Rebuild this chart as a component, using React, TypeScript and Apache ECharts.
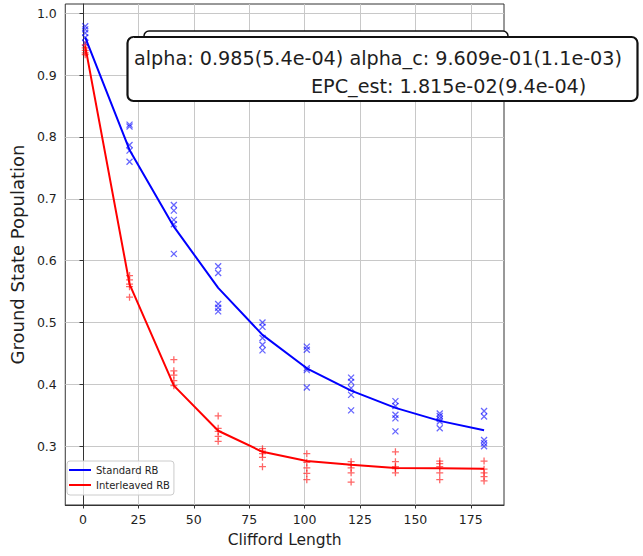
import React, { useEffect, useRef } from "react";
import * as echarts from "echarts";

const lengths = [1, 21, 41, 61, 81, 101, 121, 141, 161, 181];

const standardFit = [0.961, 0.779, 0.655, 0.556, 0.48, 0.426, 0.39, 0.362, 0.341, 0.326];
const interleavedFit = [0.947, 0.562, 0.398, 0.325, 0.291, 0.276, 0.27, 0.265, 0.2645, 0.2635];

const standardSamples = [
  [0.979, 0.974, 0.968, 0.961, 0.952],
  [0.82, 0.817, 0.787, 0.778, 0.76],
  [0.69, 0.681, 0.666, 0.659, 0.611],
  [0.591, 0.58, 0.53, 0.524, 0.518],
  [0.5, 0.493, 0.475, 0.464, 0.455],
  [0.461, 0.456, 0.426, 0.423, 0.395],
  [0.411, 0.404, 0.394, 0.383, 0.358],
  [0.373, 0.365, 0.351, 0.345, 0.324],
  [0.353, 0.349, 0.344, 0.34, 0.329],
  [0.357, 0.348, 0.31, 0.305, 0.3],
];

const interleavedSamples = [
  [0.949, 0.944, 0.94, 0.936, 0.933],
  [0.576, 0.569, 0.562, 0.558, 0.541],
  [0.44, 0.422, 0.415, 0.406, 0.398],
  [0.349, 0.329, 0.324, 0.316, 0.308],
  [0.296, 0.292, 0.288, 0.282, 0.267],
  [0.288, 0.274, 0.265, 0.256, 0.246],
  [0.275, 0.27, 0.265, 0.257, 0.242],
  [0.291, 0.275, 0.267, 0.264, 0.257],
  [0.276, 0.272, 0.267, 0.257, 0.246],
  [0.276, 0.263, 0.257, 0.251, 0.244],
];

const xTicks = [0, 25, 50, 75, 100, 125, 150, 175];
const yTicks = [0.3, 0.4, 0.5, 0.6, 0.7, 0.8, 0.9, 1.0];

const fitText1 = "alpha: 0.985(5.4e-04) alpha_c: 9.609e-01(1.1e-03)";
const fitText2 = "EPC_est: 1.815e-02(9.4e-04)";

const FONT = "DejaVu Sans";
const TEXT = "#1e1e1e";

function flatten(samples: number[][]) {
  const out: number[][] = [];
  samples.forEach((row, i) => row.forEach((v) => out.push([lengths[i], v])));
  return out;
}

export default function App() {
  const ref = useRef<HTMLDivElement>(null);
  useEffect(() => {
    if (!ref.current) return;
    const chart = echarts.init(ref.current, undefined, { renderer: "svg" });
    const axisCommon = {
      type: "value" as const,
      axisLine: { show: true, lineStyle: { color: "#333", width: 1 } },
      splitLine: { show: true, lineStyle: { color: "#c8c8c8", width: 1 } },
      nameLocation: "middle" as const,
      nameTextStyle: { fontFamily: FONT, color: TEXT },
    };
    chart.setOption({
      animation: false,
      backgroundColor: "#fff",
      grid: {
        left: 62,
        right: 139,
        top: 4,
        bottom: 51,
        show: true,
        borderColor: "#333",
        borderWidth: 1,
        backgroundColor: "transparent",
      },
      xAxis: {
        ...axisCommon,
        min: -8,
        max: 190,
        name: "Clifford Length",
        nameGap: 27,
        nameTextStyle: { fontFamily: FONT, color: TEXT, fontSize: 15.5 },
        axisTick: { show: true, customValues: xTicks, length: 3.5, lineStyle: { color: "#333" } },
        axisLabel: {
          customValues: xTicks,
          fontFamily: FONT,
          fontSize: 12.5,
          color: TEXT,
          margin: 8,
        },
      },
      yAxis: {
        ...axisCommon,
        min: 0.205,
        max: 1.015,
        name: "Ground State Population",
        nameGap: 35,
        nameTextStyle: { fontFamily: FONT, color: TEXT, fontSize: 18 },
        axisTick: { show: true, customValues: yTicks, length: 3.5, lineStyle: { color: "#333" } },
        axisLabel: {
          customValues: yTicks,
          fontFamily: FONT,
          fontSize: 12.5,
          color: TEXT,
          margin: 8.5,
          formatter: (v: number) => v.toFixed(1),
        },
      },
      legend: {
        orient: "vertical",
        left: 67,
        top: 461,
        data: [
          { name: "Standard RB", icon: "rect" },
          { name: "Interleaved RB", icon: "rect" },
        ],
        itemWidth: 22,
        itemHeight: 2,
        itemGap: 5,
        padding: [4, 4, 5, 2],
        borderColor: "#ccc",
        borderWidth: 1,
        borderRadius: 3,
        backgroundColor: "rgba(255,255,255,0.85)",
        textStyle: { fontFamily: FONT, fontSize: 10, color: TEXT },
      },
      series: [
        {
          name: "Standard RB samples",
          type: "scatter",
          data: flatten(standardSamples),
          symbol: "path://M0,0L10,10M10,0L0,10",
          symbolSize: 6,
          itemStyle: { color: "transparent", borderColor: "rgba(0,0,255,0.75)", borderWidth: 1.3 },
          z: 2,
        },
        {
          name: "Interleaved RB samples",
          type: "scatter",
          data: flatten(interleavedSamples),
          symbol: "path://M0,5L10,5M5,0L5,10",
          symbolSize: 7,
          itemStyle: { color: "transparent", borderColor: "rgba(255,0,0,0.75)", borderWidth: 1.3 },
          z: 2,
        },
        {
          name: "Standard RB",
          type: "line",
          data: lengths.map((x, i) => [x, standardFit[i]]),
          showSymbol: false,
          lineStyle: { color: "#0000ff", width: 2 },
          itemStyle: { color: "#0000ff" },
          z: 3,
        },
        {
          name: "Interleaved RB",
          type: "line",
          data: lengths.map((x, i) => [x, interleavedFit[i]]),
          showSymbol: false,
          lineStyle: { color: "#ff0000", width: 2 },
          itemStyle: { color: "#ff0000" },
          z: 3,
        },
      ],
      graphic: [
        {
          type: "rect",
          z: 100,
          shape: { x: 144, y: 31, width: 364, height: 55, r: 5 },
          style: { fill: "#fff", stroke: "#111", lineWidth: 1.5 },
        },
        {
          type: "rect",
          z: 101,
          shape: { x: 127.5, y: 37, width: 510, height: 64, r: 6 },
          style: { fill: "#fff", stroke: "#111", lineWidth: 2.2 },
        },
        {
          type: "text",
          z: 102,
          x: 134,
          y: 58.5,
          style: {
            text: fitText1,
            fontFamily: FONT,
            fontSize: 19.2,
            fill: TEXT,
            textAlign: "left",
            textVerticalAlign: "middle",
          },
        },
        {
          type: "text",
          z: 102,
          x: 311,
          y: 86,
          style: {
            text: fitText2,
            fontFamily: FONT,
            fontSize: 19.2,
            fill: TEXT,
            textAlign: "left",
            textVerticalAlign: "middle",
          },
        },
      ],
    });
    return () => chart.dispose();
  }, []);
  return (
    <div
      ref={ref}
      style={{ position: "absolute", left: 0, top: 0, width: 643, height: 556 }}
    />
  );
}
